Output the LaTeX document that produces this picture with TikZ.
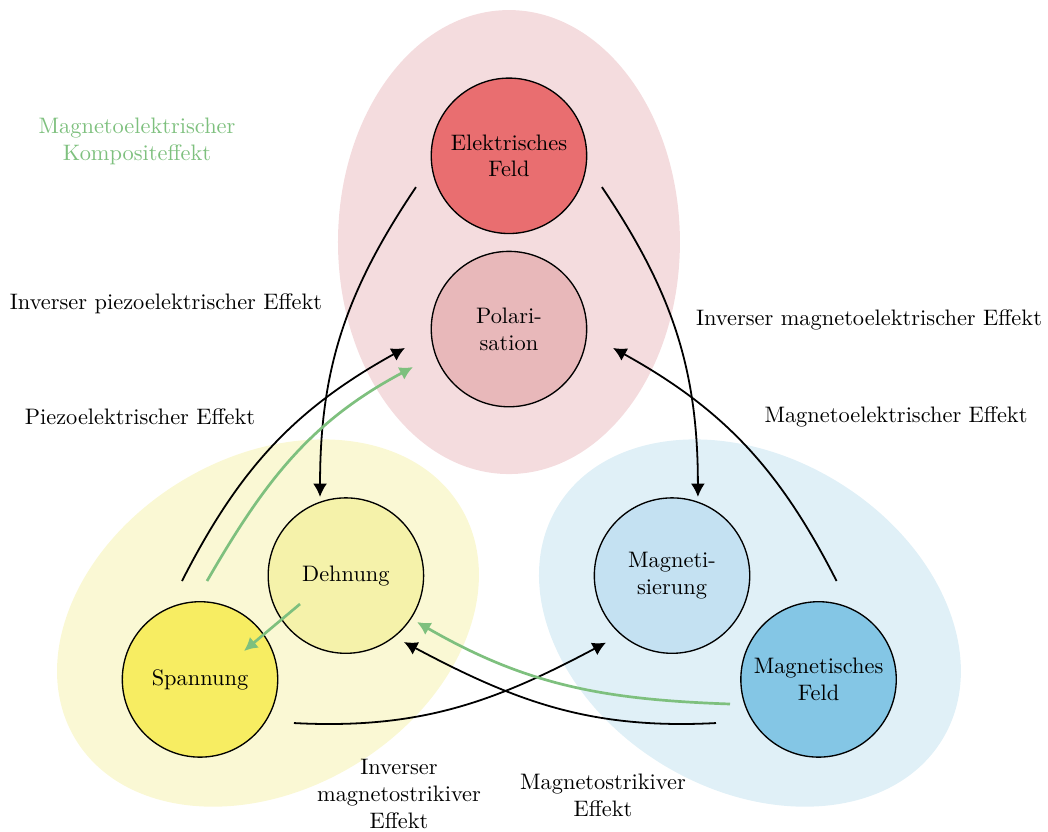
\documentclass[tikz,border=0pt]{standalone}
\usetikzlibrary{arrows.meta,calc}

\definecolor{efred}{RGB}{233,110,112}
\definecolor{polred}{RGB}{232,184,186}
\definecolor{bgred}{RGB}{244,220,222}
\definecolor{spyel}{RGB}{247,237,98}
\definecolor{dhyel}{RGB}{245,242,170}
\definecolor{bgyel}{RGB}{250,248,212}
\definecolor{mfblue}{RGB}{132,198,229}
\definecolor{mgblue}{RGB}{196,225,242}
\definecolor{bgblue}{RGB}{224,240,247}
\definecolor{compgreen}{RGB}{126,192,126}

\begin{document}
\begin{tikzpicture}[
  >={Latex[length=2.1mm, width=2.2mm]},
  qty/.style={draw, circle, semithick, align=center, minimum size=2.44cm, inner sep=0pt},
  effect/.style={align=center},
  arr/.style={->, thick},
  garr/.style={->, line width=1.2pt, compgreen}
]
\useasboundingbox (0,0) rectangle (16.452,13.046);

% groups
\fill[bgred] (7.99,9.246) ellipse [x radius=2.684, y radius=3.642];
\fill[bgyel, rotate around={31:(4.207,3.265)}] (4.207,3.265) ellipse [x radius=3.53, y radius=2.61];
\fill[bgblue, rotate around={-31:(11.773,3.265)}] (11.773,3.265) ellipse [x radius=3.53, y radius=2.61];

% quantities
\node[qty, fill=efred] (ef) at (7.99,10.6) {Elektrisches\\Feld};
\node[qty, fill=polred] (pol) at (7.99,7.88) {Polari-\\sation};
\node[qty, fill=dhyel] (dh) at (5.43,4.01) {Dehnung};
\node[qty, fill=spyel] (sp) at (3.14,2.38) {Spannung};
\node[qty, fill=mgblue] (mg) at (10.55,4.01) {Magneti-\\sierung};
\node[qty, fill=mfblue] (mf) at (12.85,2.38) {Magnetisches\\Feld};

% end points
\coordinate (ipeA) at ($(ef)+(198.6:1.54)$);
\coordinate (ipeB) at ($(dh)+(108.2:1.30)$);
\coordinate (imeA) at ($(ef)+(-18.6:1.54)$);
\coordinate (imeB) at ($(mg)+(71.8:1.30)$);
\coordinate (peA) at ($(sp)+(100.4:1.57)$);
\coordinate (peB) at ($(pol)+(190.3:1.66)$);
\coordinate (meA) at ($(mf)+(79.6:1.57)$);
\coordinate (meB) at ($(pol)+(-10.3:1.66)$);
\coordinate (gpeA) at ($(sp)+(0.11,1.545)$);
\coordinate (gpeB) at ($(pol)+(-1.506,-0.596)$);
\coordinate (imsA) at ($(sp)+(1.475,-0.685)$);
\coordinate (imsB) at ($(mg)+(-1.037,-1.052)$);
\coordinate (msA) at ($(mf)+(-1.61,-0.685)$);
\coordinate (msB) at ($(dh)+(0.912,-1.043)$);
\coordinate (gmsA) at ($(mf)+(-1.39,-0.386)$);
\coordinate (gmsB) at ($(dh)+(1.116,-0.729)$);
\coordinate (gdhA) at ($(dh)+(-0.72,-0.446)$);
\coordinate (gdhB) at ($(sp)+(0.69,0.446)$);

% effects
\draw[arr] (ipeA) to[out=236, in=90] (ipeB);
\draw[arr] (imeA) to[out=-56, in=90] (imeB);
\draw[arr] (peA) to[out=63, in=209] (peB);
\draw[arr] (meA) to[out=117, in=-29] (meB);
\draw[arr] (imsA) to[out=-3, in=208] (imsB);
\draw[arr] (msA) to[out=183, in=-28] (msB);
\draw[garr] (gpeA) to[out=60, in=208] (gpeB);
\draw[garr] (gmsA) to[out=178, in=-30] (gmsB);
\draw[garr] (gdhA) -- (gdhB);

% labels
\node[effect, compgreen] (comp) at (2.151,10.832) {Magnetoelektrischer\\Kompositeffekt};
\node[effect] (ipe) at (2.606,8.273) {Inverser piezoelektrischer Effekt};
\node[effect] (pe) at (2.198,6.499) {Piezoelektrischer Effekt};
\node[effect] (ime) at (13.642,8.022) {Inverser magnetoelektrischer Effekt};
\node[effect] (me) at (14.066,6.499) {Magnetoelektrischer Effekt};
\node[effect] (ims) at (6.264,0.58) {Inverser\\magnetostrikiver\\Effekt};
\node[effect] (ms) at (9.466,0.565) {Magnetostrikiver\\Effekt};

\end{tikzpicture}
\end{document}
